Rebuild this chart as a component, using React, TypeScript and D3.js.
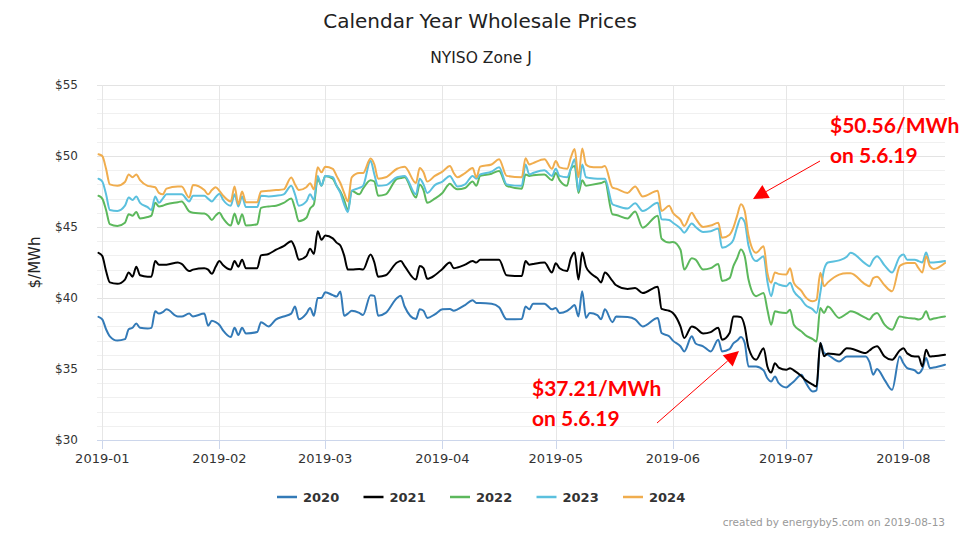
import React from "react";
import * as d3 from "d3";

const dates = [
  "2018-12-31","2019-01-01","2019-01-02","2019-01-03","2019-01-05","2019-01-07","2019-01-08","2019-01-09","2019-01-10","2019-01-11",
  "2019-01-13","2019-01-14","2019-01-15","2019-01-16","2019-01-17","2019-01-18","2019-01-21","2019-01-22","2019-01-24","2019-01-25",
  "2019-01-28","2019-01-29","2019-01-30","2019-01-31","2019-02-01","2019-02-02","2019-02-04","2019-02-05","2019-02-06","2019-02-07",
  "2019-02-08","2019-02-11","2019-02-12","2019-02-14","2019-02-16","2019-02-18","2019-02-20","2019-02-21","2019-02-22","2019-02-24",
  "2019-02-25","2019-02-26","2019-02-27","2019-02-28","2019-03-01","2019-03-03","2019-03-04","2019-03-05","2019-03-06","2019-03-07",
  "2019-03-08","2019-03-10","2019-03-11","2019-03-13","2019-03-14","2019-03-15","2019-03-17","2019-03-20","2019-03-21","2019-03-22",
  "2019-03-25","2019-03-26","2019-03-27","2019-03-28","2019-03-30","2019-04-01","2019-04-03","2019-04-04","2019-04-05","2019-04-07",
  "2019-04-09","2019-04-10","2019-04-11","2019-04-14","2019-04-16","2019-04-18","2019-04-22","2019-04-23","2019-04-24","2019-04-25",
  "2019-04-28","2019-04-30","2019-05-01","2019-05-02","2019-05-04","2019-05-05","2019-05-06","2019-05-07","2019-05-08","2019-05-09",
  "2019-05-10","2019-05-12","2019-05-13","2019-05-14","2019-05-16","2019-05-17","2019-05-20","2019-05-22","2019-05-24","2019-05-28",
  "2019-05-29","2019-05-31","2019-06-01","2019-06-03","2019-06-04","2019-06-06","2019-06-07","2019-06-09","2019-06-11","2019-06-13",
  "2019-06-14","2019-06-16","2019-06-17","2019-06-18","2019-06-19","2019-06-20","2019-06-21","2019-06-23","2019-06-25","2019-06-26",
  "2019-06-27","2019-06-28","2019-06-29","2019-07-01","2019-07-02","2019-07-03","2019-07-05","2019-07-06","2019-07-08","2019-07-09",
  "2019-07-10","2019-07-11","2019-07-12","2019-07-15","2019-07-17","2019-07-18","2019-07-22","2019-07-23","2019-07-24","2019-07-25",
  "2019-07-27","2019-07-29","2019-07-31","2019-08-01","2019-08-02","2019-08-04","2019-08-05","2019-08-06","2019-08-07","2019-08-08",
  "2019-08-09","2019-08-12",
];

const cal2020 = [
  38.67,38.5,37.8,37.3,37.0,37.1,37.8,37.9,38.2,37.9,
  37.85,37.9,39.06,38.9,39.0,39.2,38.7,38.7,38.9,38.7,
  38.9,38.05,38.4,38.3,38.1,37.7,37.25,37.9,37.4,37.9,
  37.5,37.6,38.3,38.0,38.5,38.7,38.9,39.4,38.5,38.9,
  39.3,38.75,40.0,40.0,40.4,40.2,40.1,40.46,38.75,38.9,
  39.1,38.95,38.8,40.2,40.15,38.75,38.95,40.0,40.15,39.4,
  38.52,39.2,39.1,38.6,38.85,39.2,39.23,39.1,39.2,39.5,
  39.84,39.65,39.65,39.6,39.35,38.5,38.52,39.4,39.2,39.6,
  39.6,39.2,39.3,38.95,39.1,39.3,39.5,38.7,40.47,38.6,
  38.95,38.8,38.5,39.2,38.3,38.7,38.66,38.5,38.0,38.6,
  37.53,37.3,37.0,36.6,36.24,37.3,36.8,36.6,36.24,37.06,
  36.24,36.4,36.8,37.0,37.25,36.83,35.18,35.18,34.9,34.35,
  34.12,34.47,34.0,33.7,33.9,34.12,34.6,34.12,33.42,33.5,
  36.83,36.12,36.0,35.53,35.88,35.88,35.88,35.5,34.6,35.0,
  34.24,33.53,35.88,35.4,35.06,34.9,34.7,35.0,35.77,35.06,
  35.1,35.3,
];

const cal2021 = [
  43.18,42.95,41.9,41.1,41.0,41.3,41.8,41.5,42.2,41.6,
  41.5,41.5,42.6,42.35,42.35,42.35,42.5,42.4,41.9,42.0,
  42.1,42.0,41.7,42.2,42.6,42.3,42.0,42.6,42.2,42.7,
  42.1,42.1,43.0,43.1,43.4,43.65,44.0,43.5,42.7,42.95,
  43.47,43.1,44.7,44.1,44.4,44.2,43.9,43.7,43.0,42.0,
  42.0,42.05,42.0,43.07,42.5,41.5,41.6,42.5,42.6,42.25,
  41.3,42.25,42.1,41.35,41.6,42.05,42.5,42.1,42.15,42.35,
  42.6,42.5,42.7,42.7,42.7,41.6,41.55,42.6,42.35,42.4,
  42.5,41.8,42.45,42.1,41.9,42.8,43.2,41.3,43.2,42.2,
  41.8,41.4,41.1,41.8,41.2,40.9,40.64,40.7,40.35,40.8,
  39.23,39.1,38.95,38.0,37.18,38.0,37.9,37.5,37.6,37.9,
  37.06,37.53,38.7,38.7,38.65,38.0,36.5,35.65,36.47,35.18,
  34.75,35.4,35.1,34.94,35.06,34.9,34.5,34.24,33.9,33.77,
  36.83,35.9,36.1,36.0,36.47,36.45,36.12,36.3,36.5,36.6,
  35.88,35.65,36.3,36.47,36.1,35.88,35.88,35.18,36.36,35.88,
  35.9,36.0,
];

const cal2022 = [
  47.2,47.0,46.2,45.2,45.07,45.3,45.9,45.8,46.05,45.6,
  45.7,45.8,46.7,46.45,46.5,46.6,46.75,46.8,46.1,46.0,
  45.95,45.8,45.5,45.8,46.0,45.6,45.1,45.95,45.2,45.9,
  45.1,45.2,46.35,46.45,46.5,46.7,47.0,46.3,45.4,45.65,
  46.3,46.6,48.4,47.9,48.6,48.4,47.9,47.5,46.9,46.2,
  47.55,47.3,47.7,48.3,48.2,47.2,47.3,48.4,48.45,48.5,
  47.07,48.0,47.6,46.7,47.0,47.4,48.05,47.8,47.65,47.75,
  48.2,47.9,48.6,48.75,48.95,47.9,47.7,48.7,48.6,48.65,
  48.7,48.3,48.8,48.3,47.9,49.1,49.3,47.4,48.3,47.9,
  47.95,48.05,48.1,48.2,45.9,45.85,45.6,46.1,44.95,45.8,
  44.17,43.9,43.95,43.4,42.0,42.8,42.7,42.0,42.1,42.4,
  41.2,41.4,42.24,42.8,43.42,42.94,41.3,40.13,40.36,39.18,
  38.12,39.06,39.0,38.95,39.18,38.12,37.65,37.4,37.1,36.94,
  39.3,38.95,39.4,38.6,38.9,39.06,38.6,38.48,38.8,38.95,
  38.12,37.77,38.7,38.65,38.6,38.55,38.48,38.6,39.06,38.48,
  38.55,38.7,
];

const cal2023 = [
  48.4,48.2,47.3,46.2,46.13,46.5,47.07,46.9,47.15,46.7,
  46.4,46.2,47.15,46.7,47.0,47.3,47.3,47.3,46.8,47.2,
  47.2,47.0,46.8,47.1,47.35,46.9,46.5,47.3,46.45,47.15,
  46.4,46.4,47.2,47.15,47.2,47.3,47.9,47.3,46.5,46.8,
  47.3,46.9,48.6,47.9,48.6,48.5,47.9,47.4,46.6,46.05,
  47.55,47.75,47.9,49.66,48.7,47.9,47.95,48.5,48.55,48.6,
  47.3,48.4,48.0,47.4,47.95,48.2,48.6,48.2,47.85,48.0,
  48.6,48.4,48.7,48.9,49.2,48.0,47.9,49.4,48.7,48.8,
  49.0,48.6,49.1,48.6,48.5,49.1,49.77,47.54,49.4,48.5,
  48.45,48.4,48.4,48.4,46.6,46.5,46.3,46.67,46.13,46.7,
  45.54,45.5,45.3,44.9,44.6,45.25,45.0,44.65,44.7,44.9,
  43.54,43.77,44.1,45.0,45.66,45.35,43.7,42.6,42.94,41.18,
  40.13,41.07,40.95,40.83,41.07,40.47,39.9,39.53,39.2,38.95,
  40.36,42.0,42.5,42.65,42.9,43.18,42.4,42.24,42.7,42.94,
  42.3,41.8,42.9,43.06,42.7,42.7,42.6,42.5,43.2,42.5,
  42.5,42.6,
];

const cal2024 = [
  50.13,50.0,49.1,48.0,47.9,48.17,48.7,48.5,48.7,48.3,
  47.9,47.85,47.8,47.4,47.3,47.7,47.85,47.85,47.07,47.95,
  47.6,47.3,47.6,47.8,47.55,47.2,46.8,47.85,46.6,47.5,
  46.75,46.75,47.5,47.55,47.6,47.65,48.48,48.0,47.6,47.8,
  48.08,47.65,49.2,48.85,49.25,49.1,48.6,48.1,47.4,46.8,
  48.5,48.8,48.8,49.82,49.4,48.4,48.5,49.1,49.2,49.25,
  48.1,49.15,48.85,48.2,48.6,48.9,49.3,48.8,48.5,48.8,
  49.15,48.5,49.25,49.4,49.77,48.6,48.5,49.85,49.4,49.5,
  49.77,49.1,49.64,49.2,49.1,49.9,50.5,48.5,50.53,49.4,
  49.25,49.2,49.2,49.3,47.77,47.7,47.4,47.85,47.15,47.55,
  46.13,46.5,46.0,45.5,45.07,46.0,45.6,45.0,45.1,45.3,
  44.24,44.46,44.95,45.8,46.6,46.13,44.4,43.18,43.65,41.77,
  41.07,41.8,41.7,41.65,42.1,41.07,40.5,40.1,39.77,39.88,
  41.77,40.83,41.1,41.65,41.75,41.75,40.95,40.83,41.4,41.5,
  40.9,40.47,42.24,42.4,42.47,42.47,42.1,41.8,42.94,42.24,
  42.05,42.47,
];

const seriesNames = ["2020", "2021", "2022", "2023", "2024"];
const seriesValues = [cal2020, cal2021, cal2022, cal2023, cal2024];
const seriesColors = ["#337ab7", "#000000", "#5cb85c", "#5bc0de", "#f0ad4e"];
const yTicks = [30, 35, 40, 45, 50, 55];

const W = 976;
const H = 540;
const L = 97;
const R = 945;
const T = 85;
const B = 440;
const FONT = "'DejaVu Sans', Verdana, sans-serif";

export default function App() {
  const parse = d3.utcParse("%Y-%m-%d");
  const xDates = dates.map((s) => parse(s) as Date);
  const x = d3
    .scaleUtc()
    .domain([parse("2018-12-31") as Date, parse("2019-08-12") as Date])
    .range([98.5, R]);
  const y = d3.scaleLinear().domain([30, 55]).range([B, T]);
  const monthTicks = d3.utcMonth.range(parse("2019-01-01") as Date, parse("2019-08-02") as Date);
  const fmt = d3.utcFormat("%Y-%m");
  const minor = d3.range(30, 56, 1);

  const line = d3
    .line<[Date, number]>()
    .x((d) => x(d[0]))
    .y((d) => y(d[1]))
    .curve(d3.curveMonotoneX);

  const arrow = (x1: number, y1: number, x2: number, y2: number) => {
    const ang = Math.atan2(y2 - y1, x2 - x1);
    const len = 15;
    const hw = 7.5;
    const bx = x2 - len * Math.cos(ang);
    const by = y2 - len * Math.sin(ang);
    const px = -Math.sin(ang) * hw;
    const py = Math.cos(ang) * hw;
    return (
      <g>
        <line x1={x1} y1={y1} x2={bx} y2={by} stroke="#ff0000" strokeWidth={1} />
        <path d={`M${x2},${y2}L${bx + px},${by + py}L${bx - px},${by - py}Z`} fill="#ff0000" />
      </g>
    );
  };

  const legendStart = 277;
  const legendStep = 86.5;

  return (
    <div style={{ position: "absolute", left: 0, top: 0 }}>
      <svg width={W} height={H} style={{ display: "block", background: "#fff" }}>
        <rect x={0} y={0} width={W} height={H} fill="#ffffff" />
        <text x={480} y={28} textAnchor="middle" fontFamily={FONT} fontSize={20} fill="#222">
          Calendar Year Wholesale Prices
        </text>
        <text x={481} y={63} textAnchor="middle" fontFamily={FONT} fontSize={15.5} fill="#222">
          NYISO Zone J
        </text>

        {minor.map((v) => (
          <line
            key={"h" + v}
            x1={L}
            x2={R}
            y1={Math.round(y(v)) + 0.5}
            y2={Math.round(y(v)) + 0.5}
            stroke={v % 5 === 0 ? "#e3e3e3" : "#f0f0f0"}
            strokeWidth={1}
          />
        ))}
        {monthTicks.map((m) => (
          <line
            key={"v" + m.toISOString()}
            x1={Math.round(x(m)) + 0.5}
            x2={Math.round(x(m)) + 0.5}
            y1={T}
            y2={B}
            stroke="#e6e6e6"
            strokeWidth={1}
          />
        ))}
        <line x1={L} x2={R} y1={B + 0.5} y2={B + 0.5} stroke="#ccd6eb" strokeWidth={1} />
        {monthTicks.map((m) => (
          <g key={"t" + m.toISOString()}>
            <line
              x1={Math.round(x(m)) + 0.5}
              x2={Math.round(x(m)) + 0.5}
              y1={B}
              y2={B + 9}
              stroke="#ccd6eb"
              strokeWidth={1}
            />
            <text x={x(m)} y={463} textAnchor="middle" fontFamily={FONT} fontSize={13} fill="#333">
              {fmt(m)}
            </text>
          </g>
        ))}
        {yTicks.map((v) => (
          <text
            key={"yl" + v}
            x={78}
            y={y(v)}
            dy="0.35em"
            textAnchor="end"
            fontFamily={FONT}
            fontSize={12}
            fill="#333"
          >
            {"$" + v}
          </text>
        ))}
        <text
          transform={`translate(40,${(T + B) / 2}) rotate(-90)`}
          textAnchor="middle"
          fontFamily={FONT}
          fontSize={15}
          fill="#222"
        >
          $/MWh
        </text>

        {seriesValues.map((vals, i) => {
          const pts: [Date, number][] = xDates.map((d, j) => [d, vals[j]] as [Date, number]).filter((p) => p[1] != null);
          return (
            <path
              key={seriesNames[i]}
              d={line(pts) || ""}
              fill="none"
              stroke={seriesColors[i]}
              strokeWidth={2}
              strokeLinejoin="round"
              strokeLinecap="round"
            />
          );
        })}

        {seriesNames.map((n, i) => {
          const lx = legendStart + i * legendStep;
          return (
            <g key={"lg" + n}>
              <line x1={lx} x2={lx + 20} y1={497} y2={497} stroke={seriesColors[i]} strokeWidth={2.5} />
              <text x={lx + 26} y={502} fontFamily={FONT} fontSize={13} fontWeight="bold" fill="#333">
                {n}
              </text>
            </g>
          );
        })}

        <text x={945} y={526} textAnchor="end" fontFamily={FONT} fontSize={10.5} fill="#999">
          created by energyby5.com on 2019-08-13
        </text>

        <g fontFamily="Lato, 'Liberation Sans', sans-serif" fontWeight="bold" fontSize={21} fill="#ff0000">
          <text x={830} y={133}>$50.56/MWh</text>
          <text x={830} y={163}>on 5.6.19</text>
          <text x={532} y={396}>$37.21/MWh</text>
          <text x={532} y={426}>on 5.6.19</text>
        </g>
        {arrow(820, 161, 753, 199)}
        {arrow(657, 423, 739, 351)}
      </svg>
    </div>
  );
}
